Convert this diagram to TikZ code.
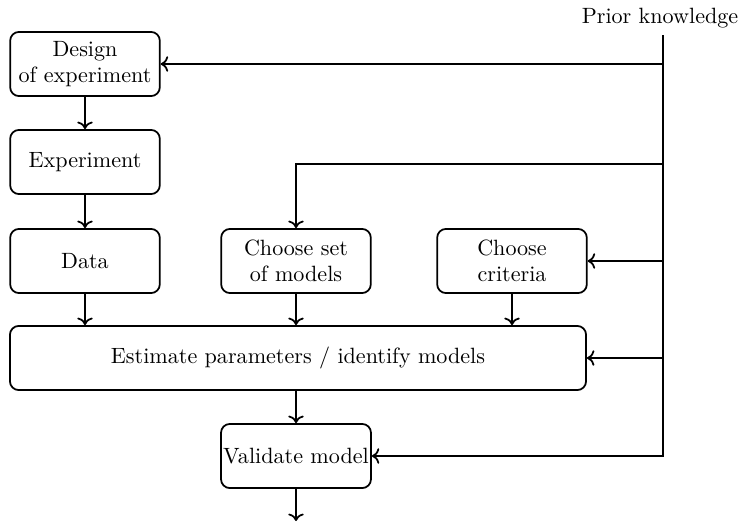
\documentclass[tikz,border=0pt]{standalone}
\usepackage{amsmath}
\usetikzlibrary{positioning,calc,arrows,arrows.meta}

\begin{document}
\begin{tikzpicture}[x=0.0159cm,y=-0.0159cm,
	block/.style={draw, thick, rounded corners=4pt, align=center,
		minimum width=2.38cm, minimum height=1.02cm, inner sep=1pt},
	flow/.style={->, thick}]
	\useasboundingbox (0,0) rectangle (742,523);

	\node[block] (design) at (85, 64) {Design\\of experiment};
	\node[block] (expt) at (85, 162) {Experiment};
	\node[block] (data) at (85, 261) {Data};
	\node[block] (models) at (296, 261) {Choose set\\of models};
	\node[block] (criteria) at (512, 261) {Choose\\criteria};
	\node[block, minimum width=9.16cm] (estim) at (298, 358) {Estimate parameters / identify models};
	\node[block] (valid) at (296, 456) {Validate model};

	\node (prior) at (660, 18) {Prior knowledge};
	\coordinate (pk) at (663, 35);
	\coordinate (pkm) at (663, 164);
	\coordinate (out) at (296, 521);

	\draw[flow] (design) -- (expt);
	\draw[flow] (expt) -- (data);
	\draw[flow] (data) -- (data |- estim.north);
	\draw[flow] (models) -- (models |- estim.north);
	\draw[flow] (criteria) -- (criteria |- estim.north);
	\draw[flow] (estim.south -| valid) -- (valid);
	\draw[flow] (valid) -- (out);

	\draw[flow] (pk) |- (design.east);
	\draw[flow] (pk) -- (pkm) -| (models.north);
	\draw[flow] (pk) |- (criteria.east);
	\draw[flow] (pk) |- (estim.east);
	\draw[flow] (pk) |- (valid.east);
\end{tikzpicture}
\end{document}
